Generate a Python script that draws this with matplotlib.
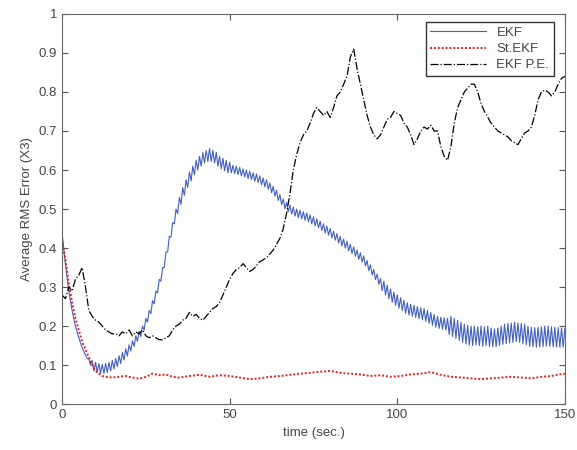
import numpy as np
import matplotlib
matplotlib.use("Agg")
import matplotlib.pyplot as plt

plt.rcParams['font.family'] = ['Liberation Sans', 'DejaVu Sans']

t = list(range(0, 151))
ekf_t = np.arange(0, 150.5, 0.5)

ekf = [0.44, 0.40, 0.36, 0.325, 0.29, 0.265, 0.24, 0.22, 0.20, 0.185,
       0.17, 0.157, 0.145, 0.135, 0.125, 0.117, 0.115, 0.10, 0.112, 0.085,
       0.107, 0.082, 0.104, 0.079, 0.102, 0.079, 0.104, 0.081, 0.107, 0.085,
       0.112, 0.09, 0.117, 0.096, 0.124, 0.104, 0.132, 0.113, 0.142, 0.123,
       0.152, 0.136, 0.162, 0.148, 0.175, 0.161, 0.187, 0.173, 0.20, 0.19,
       0.22, 0.21, 0.24, 0.232, 0.265, 0.257, 0.29, 0.285, 0.32, 0.315,
       0.35, 0.35, 0.39, 0.39, 0.43, 0.428, 0.465, 0.462, 0.50, 0.488,
       0.53, 0.512, 0.555, 0.535, 0.575, 0.555, 0.595, 0.572, 0.61, 0.588,
       0.625, 0.60, 0.635, 0.61, 0.645, 0.618, 0.65, 0.622, 0.655, 0.622,
       0.65, 0.618, 0.645, 0.61, 0.635, 0.603, 0.63, 0.598, 0.625, 0.593,
       0.62, 0.593, 0.612, 0.591, 0.61, 0.588, 0.607, 0.585, 0.603, 0.582,
       0.60, 0.578, 0.597, 0.575, 0.593, 0.571, 0.59, 0.568, 0.585, 0.562,
       0.58, 0.557, 0.575, 0.551, 0.567, 0.542, 0.558, 0.533, 0.548, 0.522,
       0.537, 0.511, 0.526, 0.501, 0.517, 0.493, 0.51, 0.487, 0.505, 0.482,
       0.50, 0.478, 0.497, 0.475, 0.493, 0.471, 0.49, 0.467, 0.485, 0.462,
       0.48, 0.457, 0.475, 0.452, 0.469, 0.445, 0.462, 0.439, 0.456, 0.433,
       0.45, 0.426, 0.443, 0.42, 0.437, 0.413, 0.43, 0.406, 0.423, 0.40,
       0.417, 0.393, 0.41, 0.386, 0.403, 0.379, 0.395, 0.371, 0.388, 0.364,
       0.38, 0.354, 0.368, 0.342, 0.357, 0.331, 0.345, 0.319, 0.333, 0.307,
       0.322, 0.291, 0.315, 0.28, 0.305, 0.27, 0.295, 0.261, 0.287, 0.253,
       0.28, 0.246, 0.273, 0.24, 0.266, 0.233, 0.26, 0.228, 0.256, 0.225,
       0.253, 0.222, 0.25, 0.219, 0.247, 0.216, 0.245, 0.212, 0.24, 0.207,
       0.235, 0.202, 0.23, 0.197, 0.225, 0.194, 0.223, 0.192, 0.221, 0.19,
       0.22, 0.178, 0.225, 0.173, 0.22, 0.168, 0.215, 0.163, 0.21, 0.158,
       0.205, 0.154, 0.202, 0.151, 0.20, 0.15, 0.20, 0.152, 0.198, 0.15,
       0.20, 0.148, 0.198, 0.15, 0.20, 0.148, 0.195, 0.147, 0.193, 0.147,
       0.195, 0.15, 0.20, 0.153, 0.205, 0.155, 0.207, 0.157, 0.208, 0.158,
       0.21, 0.16, 0.208, 0.158, 0.207, 0.155, 0.205, 0.152, 0.20, 0.148,
       0.197, 0.147, 0.196, 0.146, 0.197, 0.147, 0.198, 0.148, 0.20, 0.149,
       0.20, 0.148, 0.198, 0.147, 0.197, 0.146, 0.196, 0.146, 0.195, 0.146,
       0.195]

st_ekf_t = [0, 1, 2, 3, 4, 5, 6, 7, 8, 9, 10, 11, 12, 13, 15, 17, 19, 21, 23,
            25, 27, 29, 31, 33, 35, 38, 41, 44, 47, 50, 53, 56, 59, 62, 65, 68,
            71, 74, 77, 80, 83, 86, 89, 92, 95, 98, 101, 104, 107, 110, 113,
            116, 119, 122, 125, 128, 131, 134, 137, 140, 143, 146, 148, 150]
st_ekf = [0.42, 0.37, 0.31, 0.26, 0.22, 0.19, 0.16, 0.14, 0.12, 0.10, 0.085,
          0.078, 0.072, 0.07, 0.068, 0.07, 0.072, 0.068, 0.065, 0.07, 0.078,
          0.074, 0.076, 0.07, 0.068, 0.072, 0.075, 0.07, 0.074, 0.072, 0.068,
          0.064, 0.066, 0.07, 0.072, 0.075, 0.078, 0.08, 0.083, 0.085, 0.08,
          0.078, 0.076, 0.072, 0.074, 0.07, 0.072, 0.076, 0.078, 0.082, 0.075,
          0.07, 0.068, 0.066, 0.064, 0.066, 0.068, 0.07, 0.068, 0.066, 0.07,
          0.072, 0.076, 0.078]

ekf_pe = [0.28, 0.27, 0.30, 0.29, 0.32, 0.33, 0.35, 0.30, 0.24, 0.225, 0.215,
          0.21, 0.20, 0.19, 0.185, 0.18, 0.18, 0.175, 0.185, 0.18, 0.19, 0.175,
          0.185, 0.18, 0.19, 0.175, 0.17, 0.175, 0.17, 0.165, 0.165, 0.17,
          0.175, 0.19, 0.20, 0.205, 0.215, 0.22, 0.235, 0.225, 0.23, 0.22,
          0.215, 0.225, 0.235, 0.245, 0.25, 0.26, 0.28, 0.30, 0.32, 0.335,
          0.345, 0.35, 0.36, 0.35, 0.34, 0.345, 0.355, 0.365, 0.37, 0.375,
          0.385, 0.395, 0.41, 0.425, 0.45, 0.49, 0.54, 0.60, 0.64, 0.67, 0.69,
          0.70, 0.72, 0.745, 0.76, 0.75, 0.74, 0.75, 0.735, 0.76, 0.79, 0.80,
          0.82, 0.84, 0.89, 0.91, 0.86, 0.82, 0.78, 0.74, 0.71, 0.69, 0.68,
          0.69, 0.71, 0.73, 0.735, 0.75, 0.745, 0.74, 0.72, 0.71, 0.69, 0.665,
          0.68, 0.70, 0.71, 0.705, 0.715, 0.70, 0.70, 0.66, 0.635, 0.625, 0.66,
          0.72, 0.76, 0.78, 0.80, 0.81, 0.82, 0.82, 0.80, 0.77, 0.75, 0.735,
          0.72, 0.71, 0.70, 0.695, 0.69, 0.685, 0.675, 0.67, 0.665, 0.68, 0.695,
          0.70, 0.71, 0.74, 0.78, 0.80, 0.805, 0.80, 0.79, 0.80, 0.82, 0.835,
          0.84]

x_ticks = [0, 50, 100, 150]
y_ticks = [0, 0.1, 0.2, 0.3, 0.4, 0.5, 0.6, 0.7, 0.8, 0.9, 1]
y_labels = ["0", "0.1", "0.2", "0.3", "0.4", "0.5", "0.6", "0.7", "0.8", "0.9", "1"]

fig = plt.figure(figsize=(5.77, 4.5), dpi=100)
ax = fig.add_axes([0.1075, 0.102, 0.8715, 0.867])

txt = '#444444'
ax.plot(ekf_t, ekf, color='#4360bf', lw=0.8, label='EKF')
ax.plot(st_ekf_t, st_ekf, color='#e02020', lw=1.4, ls=(0, (1, 1)), label='St.EKF')
ax.plot(t, ekf_pe, color='black', lw=0.9, ls='-.', label='EKF P.E.')

ax.set_xlim(0, 150)
ax.set_ylim(0, 1)
ax.set_xticks(x_ticks)
ax.set_yticks(y_ticks)
ax.set_yticklabels(y_labels)
ax.tick_params(direction='in', top=True, right=True, labelsize=9.5,
               colors='#555555', labelcolor=txt, length=4)
for s in ax.spines.values():
    s.set_color('#666666')
ax.set_xlabel('time (sec.)', fontsize=9.5, color=txt)
ax.set_ylabel('Average RMS Error (X3)', fontsize=9.5, color=txt)

leg = ax.legend(loc='upper right', bbox_to_anchor=(0.978, 0.979),
                borderaxespad=0, fontsize=9.5, fancybox=False,
                edgecolor='#333333', framealpha=1, handlelength=4.2,
                labelspacing=0.3, borderpad=0.35)
for tx in leg.get_texts():
    tx.set_color(txt)
leg.get_frame().set_linewidth(1.0)

fig.savefig('out.png', dpi=100)
